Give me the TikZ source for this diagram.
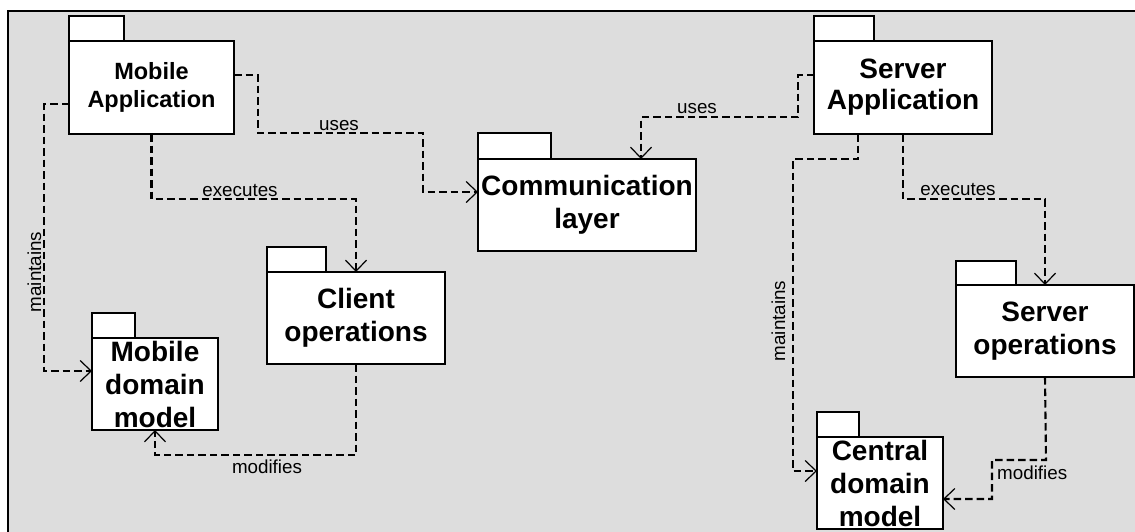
\documentclass[tikz,border=0pt]{standalone}
\usepackage{fontspec}
\setmainfont{Liberation Sans}
\usetikzlibrary{arrows.meta,calc}
\definecolor{bggray}{RGB}{221,221,221}
\begin{document}
\begin{tikzpicture}[x=1pt,y=-1pt,
  pkgbody/.style={draw, fill=white, line width=1.8pt, inner sep=0pt, outer sep=0pt, align=center,
    font={\bfseries\fontsize{28}{33}\selectfont}},
  pkgtab/.style={draw, fill=white, line width=1.8pt},
  dep/.style={draw, line width=2.1pt, dash pattern=on 7.5pt off 4pt,
    -{Straight Barb[length=11pt,width=21pt,line width=1.2pt]}},
  lbl/.style={inner sep=0pt, font={\fontsize{18.8}{22}\selectfont}}
]
\useasboundingbox (0,0) rectangle (1135,531);
\draw[line width=2.4pt, fill=bggray] (8,11) rectangle (1150,545);

% packages
\node[pkgbody, minimum width=165pt, minimum height=93pt, font={\bfseries\fontsize{23.5}{28}\selectfont}] (ma) at (151.5,87.5) {Mobile\\Application};
\draw[pkgtab] (ma.north west) rectangle ++(55,-25);

\node[pkgbody, minimum width=218pt, minimum height=92pt] (cl) at (587,205) {Communication\\layer};
\draw[pkgtab] (cl.north west) rectangle ++(73,-26);

\node[pkgbody, minimum width=178pt, minimum height=92pt] (co) at (356,318) {Client\\operations};
\draw[pkgtab] (co.north west) rectangle ++(59,-25);

\node[pkgbody, minimum width=126pt, minimum height=92pt] (mdm) at (155,384) {Mobile\\domain\\model};
\draw[pkgtab] (mdm.north west) rectangle ++(43,-25);

\node[pkgbody, minimum width=178pt, minimum height=93pt, font={\bfseries\fontsize{28}{31}\selectfont}] (sa) at (903,87.5) {Server\\Application};
\draw[pkgtab] (sa.north west) rectangle ++(60,-25);

\node[pkgbody, minimum width=178pt, minimum height=92pt] (so) at (1045,331) {Server\\operations};
\draw[pkgtab] (so.north west) rectangle ++(60,-24);

\node[pkgbody, minimum width=126pt, minimum height=92pt] (cdm) at (880,483) {Central\\domain\\model};
\draw[pkgtab] (cdm.north west) rectangle ++(42,-25);

% dependencies (mobile side)
\draw[dep] ([yshift=12.5pt]ma.east) -- (258,75) -- (258,133) -- (423,133) |- ([yshift=13pt]cl.west);
\node[lbl, anchor=base] (l1) at (339,130) {uses};

\draw[dep] (ma.south) -- (ma.south |- 0,199) -| (co.north);
\node[lbl, anchor=base] (l2) at (240,196) {executes};

\draw[dep] ([yshift=-16.5pt]ma.west) -- (44,104) |- ([yshift=13pt]mdm.west);
\node[lbl, anchor=base, rotate=90] (l3) at (41,272) {maintains};

\draw[dep] (co.south) -- (356,455) -| (mdm.south);
\node[lbl, anchor=base] (l4) at (267,473) {modifies};

% dependencies (server side)
\draw[dep] ([yshift=12.5pt]sa.west) -- (798,75) -- (798,117) -| ([xshift=54pt]cl.north);
\node[lbl, anchor=base] (l5) at (697,113) {uses};

\draw[dep] ([xshift=-45pt]sa.south) -- (858,159) -- (793,159) |- ([yshift=12pt]cdm.west);
\node[lbl, anchor=base, rotate=90] (l6) at (785,321) {maintains};

\draw[dep] (sa.south) -- (903,199) -| (so.north);
\node[lbl, anchor=base] (l7) at (958,195) {executes};

\draw[dep] (so.south) -- (1046,460) -- (992,460) |- ([yshift=-16pt]cdm.east);
\node[lbl, anchor=base west] (l8) at (997,479) {modifies};
\end{tikzpicture}
\end{document}
